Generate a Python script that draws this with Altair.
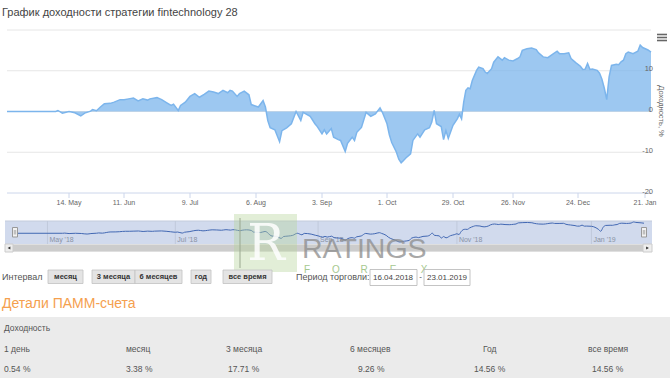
import altair as alt
import pandas as pd

# ---------------- data ----------------
dates = [
    "2018-04-16", "2018-05-08", "2018-05-09", "2018-05-11", "2018-05-14", "2018-05-17", "2018-05-20",
    "2018-05-22", "2018-05-25", "2018-05-26", "2018-05-28", "2018-05-30", "2018-06-01", "2018-06-04",
    "2018-06-06", "2018-06-09", "2018-06-11", "2018-06-13", "2018-06-15", "2018-06-17", "2018-06-19",
    "2018-06-21", "2018-06-22", "2018-06-25", "2018-06-27", "2018-06-29", "2018-07-01", "2018-07-02",
    "2018-07-04", "2018-07-05", "2018-07-07", "2018-07-09", "2018-07-11", "2018-07-13", "2018-07-15",
    "2018-07-17", "2018-07-19", "2018-07-21", "2018-07-23", "2018-07-25", "2018-07-26", "2018-07-27",
    "2018-07-29", "2018-07-30", "2018-08-01", "2018-08-03", "2018-08-04", "2018-08-06", "2018-08-07",
    "2018-08-09", "2018-08-10", "2018-08-11", "2018-08-12", "2018-08-14", "2018-08-16", "2018-08-17",
    "2018-08-19", "2018-08-21", "2018-08-23", "2018-08-25", "2018-08-26", "2018-08-29", "2018-08-31",
    "2018-09-01", "2018-09-03", "2018-09-04", "2018-09-05", "2018-09-07", "2018-09-08", "2018-09-10",
    "2018-09-11", "2018-09-13", "2018-09-14", "2018-09-16", "2018-09-17", "2018-09-18", "2018-09-20",
    "2018-09-22", "2018-09-24", "2018-09-26", "2018-09-28", "2018-09-29", "2018-10-01", "2018-10-02",
    "2018-10-03", "2018-10-05", "2018-10-06", "2018-10-07", "2018-10-08", "2018-10-09", "2018-10-11",
    "2018-10-12", "2018-10-14", "2018-10-15", "2018-10-17", "2018-10-19", "2018-10-20", "2018-10-21",
    "2018-10-22", "2018-10-24", "2018-10-25", "2018-10-26", "2018-10-27", "2018-10-29", "2018-10-31",
    "2018-11-01", "2018-11-02", "2018-11-03", "2018-11-04", "2018-11-05", "2018-11-06", "2018-11-07",
    "2018-11-09", "2018-11-10", "2018-11-12", "2018-11-13", "2018-11-14", "2018-11-16", "2018-11-17",
    "2018-11-19", "2018-11-21", "2018-11-22", "2018-11-24", "2018-11-26", "2018-11-28", "2018-11-29",
    "2018-11-30", "2018-12-02", "2018-12-04", "2018-12-06", "2018-12-07", "2018-12-09", "2018-12-11",
    "2018-12-13", "2018-12-15", "2018-12-16", "2018-12-18", "2018-12-20", "2018-12-21", "2018-12-23",
    "2018-12-25", "2018-12-26", "2018-12-27", "2018-12-28", "2018-12-29", "2018-12-30", "2019-01-01",
    "2019-01-02", "2019-01-03", "2019-01-04", "2019-01-05", "2019-01-06", "2019-01-07", "2019-01-09",
    "2019-01-10", "2019-01-11", "2019-01-12", "2019-01-13", "2019-01-14", "2019-01-16", "2019-01-18",
    "2019-01-19", "2019-01-20", "2019-01-22", "2019-01-23",
]
values = [
    0.0, 0.0, 0.25, -0.4, 0.0, -0.3, -1.1,
    -0.4, 0.1, 0.5, 0.2, 1.1, 1.9, 2.0,
    2.3, 2.9, 2.9, 3.1, 3.3, 2.6, 3.1,
    2.8, 3.1, 3.4, 2.9, 2.2, 1.5, 1.8,
    0.25, 1.5, 2.3, 3.7, 4.4, 3.5, 4.2,
    5.0, 4.8, 4.4, 5.2, 4.6, 5.2, 5.0,
    3.7, 4.4, 5.0, 4.1, 1.7, 1.3, 1.1,
    2.7, 1.1, -2.2, -4.0, -4.5, -7.4, -4.7,
    -4.0, -3.0, 0.0, -2.2, -0.2, -1.2, -3.0,
    -3.7, -5.5, -4.5, -5.5, -4.2, -6.3, -6.9,
    -7.1, -9.8, -7.8, -6.3, -7.1, -5.1, -3.9,
    -0.2, -1.2, -0.6, 0.9, -0.2, -3.0, -5.7,
    -7.6, -10.0, -11.7, -12.6, -12.0, -11.4, -10.4,
    -7.1, -5.5, -6.3, -4.5, -4.0, -2.6, 0.25,
    -3.0, -3.7, -6.9, -4.7, -6.6, -3.4, -1.8,
    -0.7, -1.8, 2.3, 5.2, 5.8, 5.6, 7.6,
    10.1, 10.9, 10.5, 9.7, 9.3, 10.5, 12.1,
    13.4, 12.6, 13.2, 12.6, 12.4, 13.0, 13.4,
    15.0, 15.4, 15.6, 15.2, 14.4, 13.4, 13.2,
    14.0, 14.8, 14.2, 14.2, 14.4, 13.0, 12.0,
    11.1, 10.3, 10.4, 11.8, 10.3, 10.4, 10.1,
    9.4, 7.9, 5.7, 2.9, 8.5, 11.3, 11.6,
    11.5, 12.2, 12.6, 14.2, 14.6, 14.2, 14.8,
    16.3, 15.7, 15.1, 14.56,
]

tick_dates = ["2018-05-14", "2018-06-11", "2018-07-09", "2018-08-06", "2018-09-03",
              "2018-10-01", "2018-10-29", "2018-11-26", "2018-12-24", "2019-01-21"]
tick_labels = ["14. May", "11. Jun", "9. Jul", "6. Aug", "3. Sep",
               "1. Oct", "29. Oct", "26. Nov", "24. Dec", "21. Jan"]
y_tick_values = [10, 0, -10, -20]
y_grid_values = [20, 10, 0, -10]
nav_month_dates = ["2018-05-01", "2018-07-01", "2018-09-01", "2018-11-01", "2019-01-01"]
nav_month_labels = ["May '18", "Jul '18", "Sep '18", "Nov '18", "Jan '19"]
buttons = ["месяц", "3 месяца", "6 месяцев", "год", "все время"]
period_labels = ["1 день", "месяц", "3 месяца", "6 месяцев", "Год", "все время"]
period_returns = ["0.54 %", "3.38 %", "17.71 %", "9.26 %", "14.56 %", "14.56 %"]

# ---------------- layout (ordinal-like time axis, piecewise) ----------------
anchor_dates = ["2018-04-16", "2018-05-14", "2018-06-11", "2018-07-09", "2018-08-06", "2018-09-03",
                "2018-10-01", "2018-10-29", "2018-11-26", "2018-12-24", "2019-01-21", "2019-01-23"]
anchor_px = [7, 69, 124, 190, 256, 322, 387, 453, 513, 578, 645, 651]
nav_px = [15 + (p - 7) * (644 - 15) / (651 - 7) for p in anchor_px]

FONT = "Liberation Sans"
START = pd.Timestamp("2018-04-16")


def day(s):
    return int((pd.Timestamp(s) - START).days)


anchor_days = [day(d) for d in anchor_dates]
xs = alt.Scale(type="linear", domain=anchor_days, range=anchor_px, nice=False, zero=False)
nav_xs = alt.Scale(type="linear", domain=anchor_days, range=nav_px, nice=False, zero=False)
ys = alt.Scale(domain=[-20, 20], range=[193, 30], nice=False, zero=False)
nav_ys = alt.Scale(range=[242, 222], nice=False, zero=False)

df = pd.DataFrame({"day": [day(d) for d in dates], "value": values})
ticks_df = pd.DataFrame({"day": [day(d) for d in tick_dates], "label": tick_labels})
ylab_df = pd.DataFrame({"v": y_tick_values, "t": [str(v) for v in y_tick_values]})
grid_df = pd.DataFrame({"v": y_grid_values})
axis_df = pd.DataFrame({"v": [-20]})
navm_df = pd.DataFrame({"day": [day(d) for d in nav_month_dates], "label": nav_month_labels})
ONE = pd.DataFrame({"k": [0]})

X = alt.X("day:Q", scale=xs, axis=None)
NX = alt.X("day:Q", scale=nav_xs, axis=None)


def txt(s, x, y, size=9, color="#555555", align="left", baseline="middle", weight="normal",
        font=FONT, angle=0, opacity=1.0):
    return alt.Chart(ONE).mark_text(
        text=s, fontSize=size, color=color, align=align, baseline=baseline,
        fontWeight=weight, font=font, angle=angle, opacity=opacity,
    ).encode(x=alt.value(x), y=alt.value(y))


def box(x1, y1, x2, y2, fill, stroke=None, sw=1, opacity=1.0, cr=0):
    kw = dict(fill=fill, opacity=opacity, cornerRadius=cr)
    if stroke:
        kw.update(stroke=stroke, strokeWidth=sw)
    return alt.Chart(ONE).mark_rect(**kw).encode(
        x=alt.value(x1), x2=alt.value(x2), y=alt.value(y1), y2=alt.value(y2))


def hline(x1, x2, y, color, sw=1):
    return alt.Chart(ONE).mark_rule(color=color, strokeWidth=sw).encode(
        x=alt.value(x1), x2=alt.value(x2), y=alt.value(y))


def vline(x, y1, y2, color, sw=1):
    return alt.Chart(ONE).mark_rule(color=color, strokeWidth=sw).encode(
        x=alt.value(x), y=alt.value(y1), y2=alt.value(y2))


# ---------------- main plot ----------------
grid = alt.Chart(grid_df).mark_rule(color="#e6e6e6", strokeWidth=1).encode(
    y=alt.Y("v:Q", scale=ys, axis=None), x=alt.value(7), x2=alt.value(651))
area = alt.Chart(df).mark_area(color="#7cb5ec", opacity=0.75).encode(
    x=X, y=alt.Y("value:Q", scale=ys, axis=None), y2=alt.Y2(datum=0))
line = alt.Chart(df).mark_line(color="#7cb5ec", strokeWidth=1.5).encode(
    x=X, y=alt.Y("value:Q", scale=ys, axis=None))
axis_line = alt.Chart(axis_df).mark_rule(color="#ccd6eb", strokeWidth=1).encode(
    y=alt.Y("v:Q", scale=ys, axis=None), x=alt.value(7), x2=alt.value(651))
ticks = alt.Chart(ticks_df).mark_rule(color="#ccd6eb", strokeWidth=1).encode(
    x=X, y=alt.value(193), y2=alt.value(198))
tick_text = alt.Chart(ticks_df).mark_text(fontSize=7, color="#666666", font=FONT, baseline="middle").encode(
    x=X, y=alt.value(203), text="label:N")
ylabels = alt.Chart(ylab_df).mark_text(fontSize=7.5, color="#666666", font=FONT, align="right",
                                       baseline="alphabetic", dy=0.5).encode(
    x=alt.value(653), y=alt.Y("v:Q", scale=ys, axis=None), text="t:N")

main = alt.layer(grid, area, line, axis_line, ticks, tick_text, ylabels)

# ---------------- navigator ----------------
nav_grid = alt.Chart(navm_df).mark_rule(color="#c0c9db", strokeWidth=1).encode(
    x=NX, y=alt.value(221), y2=alt.value(244))
nav_text = alt.Chart(navm_df).mark_text(fontSize=7, color="#8a93a5", font=FONT, align="left",
                                        baseline="alphabetic", dx=2).encode(
    x=NX, y=alt.value(242), text="label:N")
nav_line = alt.Chart(df).mark_line(color="#4268b3", strokeWidth=1, interpolate="monotone").encode(
    x=NX, y=alt.Y("value:Q", scale=nav_ys, axis=None))
nav = alt.layer(nav_grid, nav_text, nav_line)

# ---------------- chrome behind ----------------
bg = [
    box(5, 221, 652, 244, "#d1daed"),
    hline(5, 652, 221, "#c3cbdc"),
    box(5, 244, 652, 252, "#f2f2f2"),
    box(13, 244.5, 643, 251.5, "#cccccc"),
    box(5, 244, 13, 252, "#eeeeee", stroke="#cccccc"),
    box(643, 244, 652, 252, "#eeeeee", stroke="#cccccc"),
    box(0, 317, 670, 378, "#ebebeb"),
]

# ---------------- chrome in front ----------------
fg = []
for hx in (15, 644):
    fg.append(box(hx - 2.5, 227.5, hx + 2.5, 237, "#f2f2f2", stroke="#999999"))
    fg.append(vline(hx - 0.7, 230, 234.5, "#999999", 0.7))
    fg.append(vline(hx + 0.7, 230, 234.5, "#999999", 0.7))
fg.append(alt.Chart(ONE).mark_point(shape="triangle-left", size=10, filled=True, color="#333333", opacity=1).encode(
    x=alt.value(9), y=alt.value(248)))
fg.append(alt.Chart(ONE).mark_point(shape="triangle-right", size=10, filled=True, color="#333333", opacity=1).encode(
    x=alt.value(647.5), y=alt.value(248)))

# watermark
fg.append(box(234, 214, 297, 272, "#b7d59c", opacity=0.4))
fg.append(vline(240, 218, 268, "#9aa890", 1))
fg.append(txt("R", 266, 260, size=50, color="#ffffff", align="center", baseline="alphabetic",
              font="DejaVu Serif", opacity=0.85))
fg.append(txt("RATINGS", 302, 257.5, size=28.5, color="#8c8c8c", baseline="alphabetic", opacity=0.75))
for letter, lx in zip(list("FOREX"), [307, 336, 364, 393, 424]):
    fg.append(txt(letter, lx, 270, size=10, color="#9cc383", align="center", opacity=0.9))

# title, menu, axis title
fg.append(txt("График доходности стратегии fintechnology 28", 2, 13, size=11, color="#444444"))
for my in (34.5, 37.5, 40.5):
    fg.append(hline(657, 667, my, "#666666", 1.6))
fg.append(txt("Доходность, %", 661, 111, size=7.5, color="#666666", align="center", angle=90))

# range selector
fg.append(txt("Интервал", 2, 276.5, size=9, color="#555555"))
btn_boxes = [(48, 83), (92, 135), (135, 182), (191, 211), (223, 272)]
for label, (bx1, bx2) in zip(buttons, btn_boxes):
    fg.append(box(bx1, 270, bx2, 283.5, "#e4e4e4", stroke="#c2c2c2", sw=0.8))
    fg.append(txt(label, (bx1 + bx2) / 2, 277, size=7.5, color="#333333", align="center", weight="bold"))
fg.append(txt("Период торговли:", 296, 277, size=9, color="#555555"))
fg.append(box(370, 269.5, 417, 285.5, "#ffffff", stroke="#b5b5b5", sw=0.8))
fg.append(box(424, 269.5, 470, 285.5, "#ffffff", stroke="#b5b5b5", sw=0.8))
fg.append(txt("16.04.2018", 373, 277.5, size=8, color="#444444"))
fg.append(txt("-", 420.5, 277, size=8, color="#444444", align="center"))
fg.append(txt("23.01.2019", 427, 277.5, size=8, color="#444444"))

# details section
fg.append(txt("Детали ПАММ-счета", 2, 304, size=14, color="#f5a04e"))
fg.append(txt("Доходность", 4, 328, size=8.5, color="#555555"))
label_x = [4, 126, 226, 350, 483, 588]
value_x = [4, 126, 228, 358, 474, 592]
for s, lx in zip(period_labels, label_x):
    fg.append(txt(s, lx, 349, size=8.5, color="#555555"))
for s, vx in zip(period_returns, value_x):
    fg.append(txt(s, vx, 369, size=8.5, color="#555555"))

chart = alt.layer(*bg, main, nav, *fg).resolve_scale(
    x="independent", y="independent"
).properties(
    width=670, height=378, padding=0, background="white",
    autosize=alt.AutoSizeParams(type="none"),
).configure_view(stroke=None)

chart.save("out.html", embed_options={"renderer": "svg", "actions": False})
